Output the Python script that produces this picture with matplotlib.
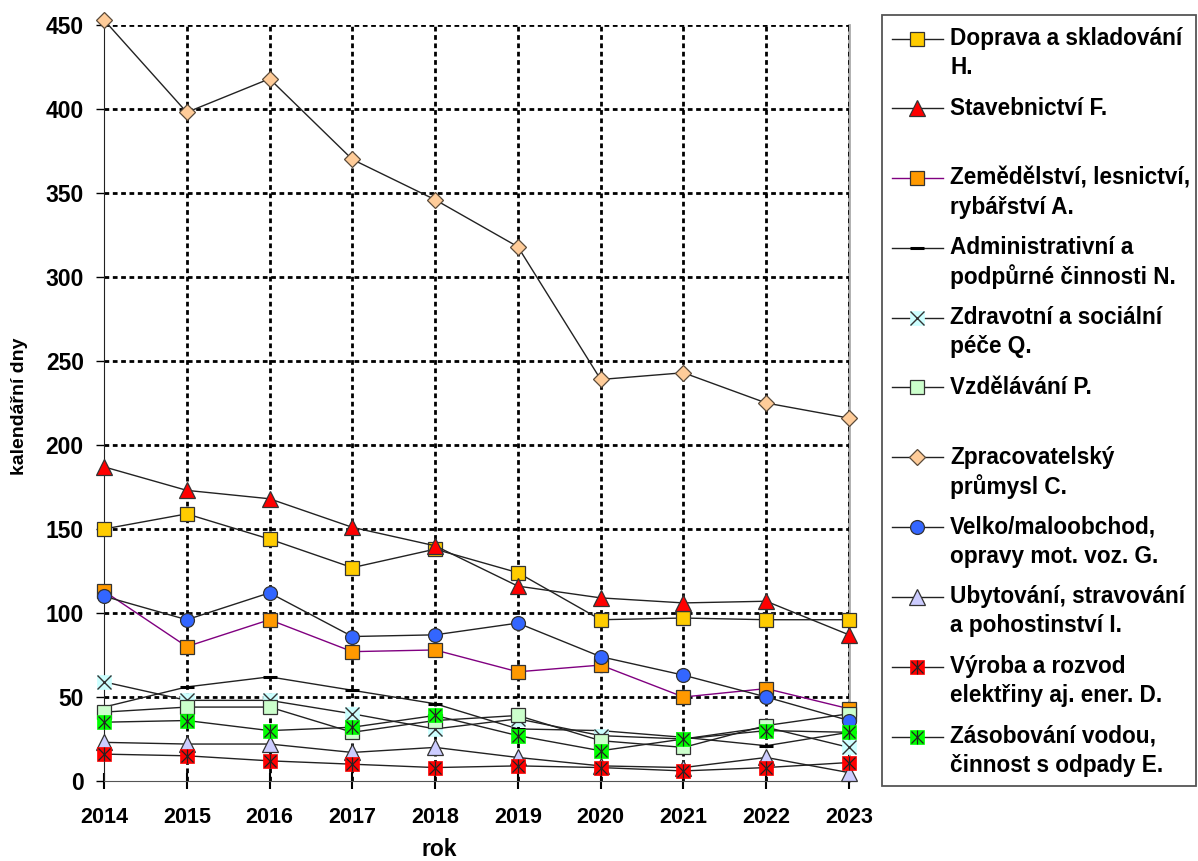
import matplotlib
matplotlib.use("Agg")
import matplotlib.pyplot as plt
from matplotlib.lines import Line2D
from matplotlib.patches import Rectangle

plt.rcParams['font.family'] = ['Liberation Sans', 'DejaVu Sans']
plt.rcParams['font.weight'] = 'bold'

years = [2014, 2015, 2016, 2017, 2018, 2019, 2020, 2021, 2022, 2023]

doprava_H = [150, 159, 144, 127, 138, 124, 96, 97, 96, 96]
stavebnictvi_F = [187, 173, 168, 151, 140, 116, 109, 106, 107, 87]
zemedelstvi_A = [113, 80, 96, 77, 78, 65, 69, 50, 55, 43]
administrativni_N = [44, 56, 62, 54, 46, 31, 30, 26, 21, 29]
zdravotni_Q = [59, 48, 48, 40, 31, 37, 27, 25, 32, 20]
vzdelavani_P = [41, 44, 44, 29, 36, 39, 24, 20, 33, 40]
zpracovatelsky_C = [453, 398, 418, 370, 346, 318, 239, 243, 225, 216]
velko_G = [110, 96, 112, 86, 87, 94, 74, 63, 50, 36]
ubytovani_I = [23, 22, 22, 17, 20, 14, 9, 8, 14, 5]
vyroba_D = [16, 15, 12, 10, 8, 9, 8, 6, 8, 11]
zasobovani_E = [35, 36, 30, 32, 39, 27, 18, 25, 30, 29]

y_ticks = [0, 50, 100, 150, 200, 250, 300, 350, 400, 450]

labels = [
    ("Doprava a skladování", "H."),
    ("Stavebnictví F.", ""),
    ("Zemědělství, lesnictví,", "rybářství A."),
    ("Administrativní a", "podpůrné činnosti N."),
    ("Zdravotní a sociální", "péče Q."),
    ("Vzdělávání P.", ""),
    ("Zpracovatelský", "průmysl C."),
    ("Velko/maloobchod,", "opravy mot. voz. G."),
    ("Ubytování, stravování", "a pohostinství I."),
    ("Výroba a rozvod", "elektřiny aj. ener. D."),
    ("Zásobování vodou,", "činnost s odpady E."),
]
series = [doprava_H, stavebnictvi_F, zemedelstvi_A, administrativni_N, zdravotni_Q,
          vzdelavani_P, zpracovatelsky_C, velko_G, ubytovani_I, vyroba_D, zasobovani_E]

# style: (line color, kind, face color, marker size)
styles = [
    ('#222222', 's', '#FFCC00', 9.5),
    ('#222222', '^', '#FF0000', 11),
    ('#800080', 's', '#FF9900', 9.5),
    ('#222222', 'dash', '#000000', 10),
    ('#222222', 'xbox', '#CCFFFF', 10.5),
    ('#222222', 's', '#CCFFCC', 9.5),
    ('#222222', 'D', '#FFCC99', 8.5),
    ('#222222', 'o', '#3366FF', 10),
    ('#222222', '^', '#CCCCFF', 11),
    ('#222222', 'star', '#FF0000', 10),
    ('#222222', 'star', '#00FF00', 10),
]


def draw(plotfn, x, y, lc, kind, fc, ms, z, line=True):
    ls = '-' if line else 'none'
    if kind in ('s', '^', 'D', 'o'):
        ec = '#333333' if kind != 'D' else '#5a4a3a'
        plotfn(x, y, color=lc, lw=1.0, ls=ls, marker=kind, ms=ms, mfc=fc,
               mec=ec, mew=0.9, zorder=z)
    elif kind == 'dash':
        plotfn(x, y, color=lc, lw=1.0, ls=ls, marker='_', ms=ms, mec='black',
               mew=2.2, zorder=z)
    elif kind == 'xbox':
        plotfn(x, y, color=lc, lw=1.0, ls=ls, marker='s', ms=ms, mfc=fc,
               mec=fc, mew=0.5, zorder=z)
        plotfn(x, y, ls='none', marker='x', ms=ms * 0.95, mec='#333333',
               mew=1.0, zorder=z + 0.1)
    elif kind == 'star':
        plotfn(x, y, color=lc, lw=1.0, ls=ls, marker='s', ms=ms, mfc=fc,
               mec=fc, mew=0.5, zorder=z)
        plotfn(x, y, ls='none', marker='x', ms=ms * 0.85, mec='#222222',
               mew=0.9, zorder=z + 0.1)
        plotfn(x, y, ls='none', marker='|', ms=ms * 0.95, mec='#222222',
               mew=0.9, zorder=z + 0.1)


W, H = 1198, 861
fig = plt.figure(figsize=(W / 100, H / 100), dpi=100)
ax = fig.add_axes([104 / W, 1 - 781 / H, (849 - 104) / W, (781 - 25) / H])

for i, (vals, st) in enumerate(zip(series, styles)):
    lc, kind, fc, ms = st
    def pf(*a, **k):
        k.setdefault('clip_on', False)
        return ax.plot(*a, **k)
    draw(pf, years, vals, lc, kind, fc, ms, 3 + i)

ax.set_xlim(years[0], years[-1])
ax.set_ylim(y_ticks[0], y_ticks[-1])
ax.set_yticks(y_ticks)
ax.set_xticks(years)
ax.set_xticklabels([str(y) for y in years])
ax.tick_params(axis='y', direction='out', length=6, width=1, labelsize=16.5, pad=8.5)
ax.tick_params(axis='x', direction='inout', length=12, width=1.5, labelsize=15.5, pad=13)
for lab in ax.get_xticklabels() + ax.get_yticklabels():
    lab.set_fontweight('bold')

grid_kw = dict(color='black', linestyle=(0, (1.7, 1.3)), linewidth=2, zorder=1)
for yv in y_ticks[1:]:
    ax.axhline(yv, **grid_kw)
for xv in years[1:]:
    ax.axvline(xv, **grid_kw)

ax.spines['top'].set_visible(False)
ax.spines['right'].set_color('#AAAAAA')
ax.spines['right'].set_linewidth(2)
ax.spines['right'].set_zorder(0.5)
ax.spines['left'].set_color('#222222')
ax.spines['bottom'].set_color('#555555')

ax.set_xlabel('rok', fontsize=16.5, fontweight='bold')
ax.xaxis.set_label_coords((439 - 104) / 745, -(850 - 781) / 756)
ax.xaxis.label.set_va('center')
ax.set_ylabel('kalendářní dny', fontsize=14, fontweight='bold')
ax.yaxis.set_label_coords(-(104 - 19) / 745, (781 - 406) / 756)
ax.yaxis.label.set_va('center')

# Legend (drawn manually to match layout)
fig.add_artist(Rectangle((882 / W, 1 - 786 / H), (1196 - 882) / W, (786 - 15) / H,
                         transform=fig.transFigure, fill=False, ec='#555555', lw=1.3))
y0, step = 38.5, 69.8
for i, ((l1, l2), st) in enumerate(zip(labels, styles)):
    lc, kind, fc, ms = st
    py = y0 + i * step
    yf = 1 - py / H
    fig.add_artist(Line2D([892 / W, 943 / W], [yf, yf], color=lc, lw=1.0,
                          transform=fig.transFigure))
    def pf(x, y, **k):
        k.pop('clip_on', None)
        k['ls'] = 'none'
        fig.add_artist(Line2D(x, y, transform=fig.transFigure, **k))
    draw(pf, [917 / W], [yf], lc, kind, fc, ms, 10, line=False)
    fig.text(950 / W, yf, l1, fontsize=16.3, fontweight='bold', va='center', ha='left')
    if l2:
        fig.text(950 / W, 1 - (py + 29) / H, l2, fontsize=16.3, fontweight='bold',
                 va='center', ha='left')

fig.savefig('out.png', dpi=100)
